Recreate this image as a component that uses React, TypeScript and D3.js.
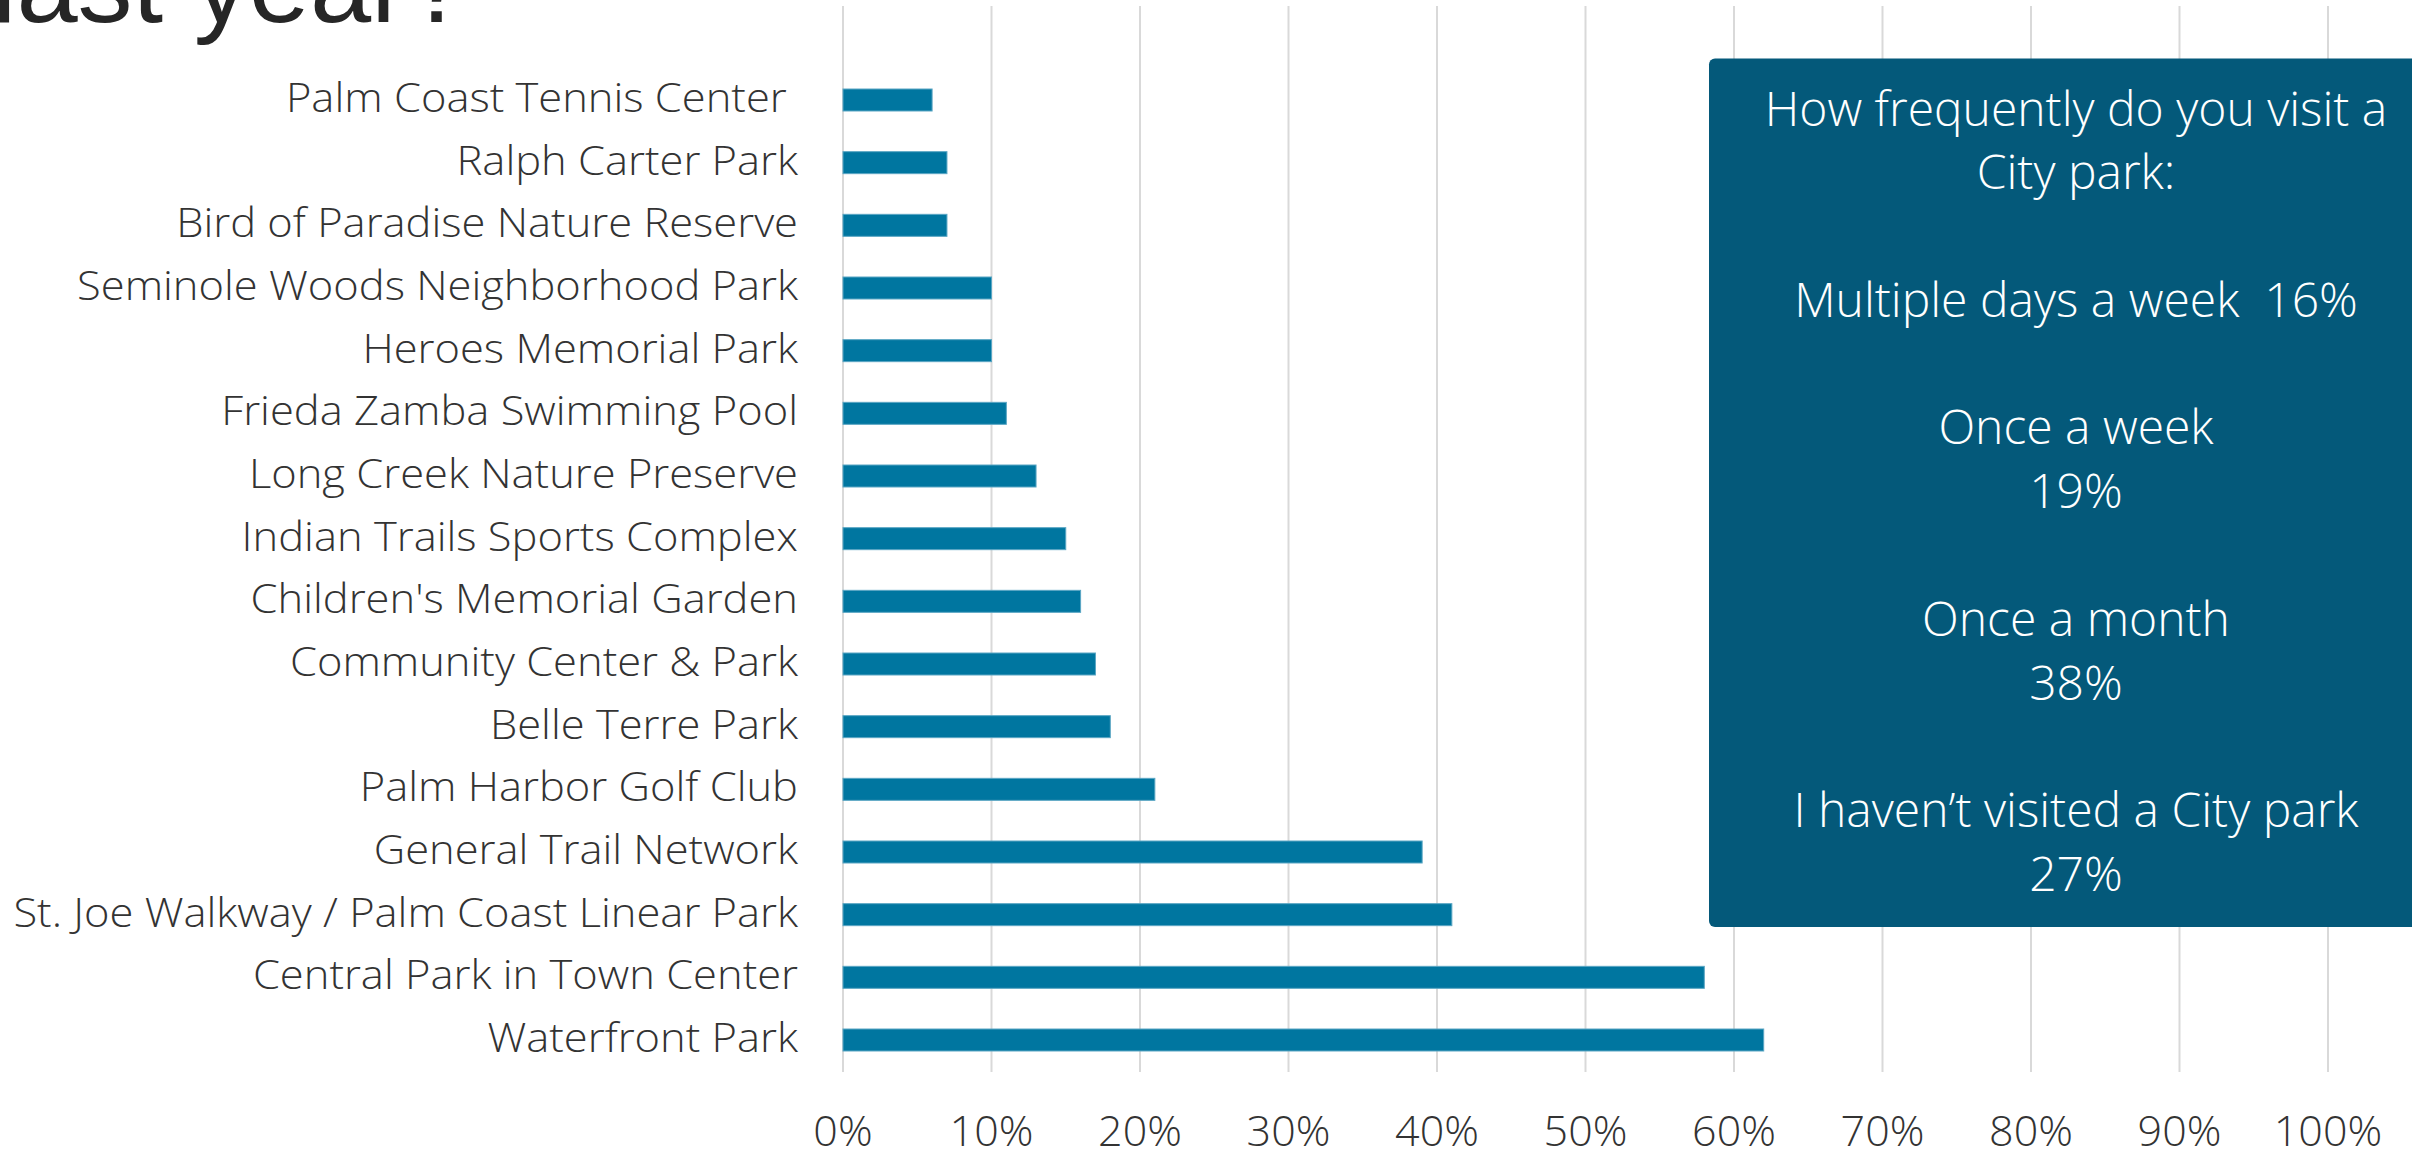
import React from "react";
import * as d3 from "d3";

const categories = [
  "Palm Coast Tennis Center ",
  "Ralph Carter Park",
  "Bird of Paradise Nature Reserve",
  "Seminole Woods Neighborhood Park",
  "Heroes Memorial Park",
  "Frieda Zamba Swimming Pool",
  "Long Creek Nature Preserve",
  "Indian Trails Sports Complex",
  "Children's Memorial Garden",
  "Community Center & Park",
  "Belle Terre Park",
  "Palm Harbor Golf Club",
  "General Trail Network",
  "St. Joe Walkway / Palm Coast Linear Park",
  "Central Park in Town Center",
  "Waterfront Park",
];
const values = [0.06, 0.07, 0.07, 0.10, 0.10, 0.11, 0.13, 0.15, 0.16, 0.17, 0.18, 0.21, 0.39, 0.41, 0.58, 0.62];
const ticks = [0, 0.1, 0.2, 0.3, 0.4, 0.5, 0.6, 0.7, 0.8, 0.9, 1.0];
const boxLines = [
  "How frequently do you visit a",
  "City park:",
  "",
  "Multiple days a week  16%",
  "",
  "Once a week",
  "19%",
  "",
  "Once a month",
  "38%",
  "",
  "I haven\u2019t visited a City park",
  "27%",
];
const titleText = "last year?";

const W = 2412;
const H = 1153;
const LABEL_FONT = "'Open Sans', 'Noto Sans', sans-serif";

export default function App() {
  const x = d3.scaleLinear().domain([0, 1]).range([843, 2328]);
  const y = d3.scalePoint<string>().domain(categories).range([100, 1040]);
  const barH = 22;
  const gridTop = 6;
  const gridBottom = 1072;
  const fmt = d3.format(".0%");
  const boxLineY = d3.scaleLinear().domain([0, 12]).range([125.5, 891]);

  return (
    <svg
      width={W}
      height={H}
      style={{ position: "absolute", left: 0, top: 0, background: "#fff" }}
    >
      <text
        x={-8}
        y={22}
        fontFamily="'Liberation Sans', Arial, sans-serif"
        fontSize={110}
        fill="#262626"
      >
        {titleText}
      </text>
      {ticks.map((t) => (
        <line
          key={"g" + t}
          x1={x(t)}
          x2={x(t)}
          y1={gridTop}
          y2={gridBottom}
          stroke="#d9d9d9"
          strokeWidth={2}
        />
      ))}
      {categories.map((c, i) => (
        <rect
          key={"b" + c}
          x={x(0)}
          y={(y(c) as number) - barH / 2}
          width={x(values[i]) - x(0)}
          height={barH}
          fill="#0076a0"
          stroke="#5aa6c4"
          strokeWidth={1}
        />
      ))}
      {categories.map((c) => (
        <text
          key={"l" + c}
          transform={`translate(798,${(y(c) as number) + 12}) scale(1.087,1)`}
          textAnchor="end"
          fontFamily={LABEL_FONT}
          fontWeight={300}
          fontSize={40}
          fill="#333"
          style={{ whiteSpace: "pre" }}
        >
          {c}
        </text>
      ))}
      {ticks.map((t) => (
        <text
          key={"t" + t}
          x={x(t)}
          y={1146}
          textAnchor="middle"
          fontFamily={LABEL_FONT}
          fontWeight={300}
          fontSize={43}
          fill="#333"
        >
          {fmt(t)}
        </text>
      ))}
      <rect x={1709} y={58.5} width={760} height={868.5} rx={6} fill="#04597a" />
      {boxLines.map((s, i) =>
        s ? (
          <text
            key={"bx" + i}
            x={2076}
            y={boxLineY(i)}
            textAnchor="middle"
            fontFamily={LABEL_FONT}
            fontWeight={300}
            fontSize={48}
            fill="#fff"
            style={{ whiteSpace: "pre" }}
          >
            {s}
          </text>
        ) : null
      )}
    </svg>
  );
}
